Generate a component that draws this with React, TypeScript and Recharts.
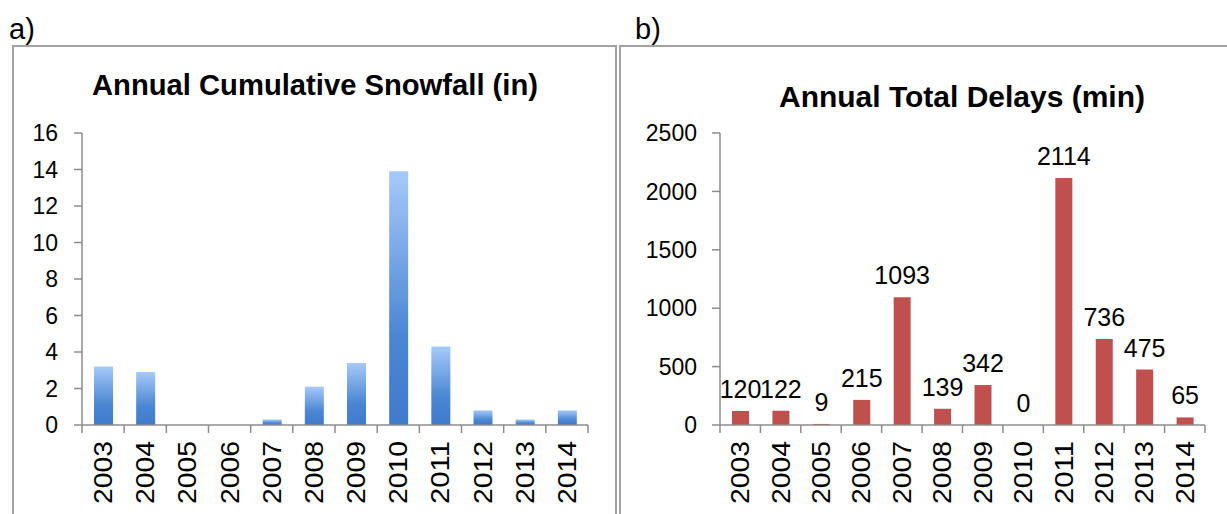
import { Bar, BarChart, LabelList, XAxis, YAxis } from "recharts";

const years = ["2003", "2004", "2005", "2006", "2007", "2008", "2009", "2010", "2011", "2012", "2013", "2014"];
const snowfall = [3.2, 2.9, 0, 0, 0.3, 2.1, 3.4, 13.9, 4.3, 0.8, 0.3, 0.8];
const delays = [120, 122, 9, 215, 1093, 139, 342, 0, 2114, 736, 475, 65];
const snowTicks = [0, 2, 4, 6, 8, 10, 12, 14, 16];
const delayTicks = [0, 500, 1000, 1500, 2000, 2500];

const snowData = years.map((year, i) => ({ year, value: snowfall[i] }));
const delayData = years.map((year, i) => ({ year, value: delays[i] }));

const FONT = "'Liberation Sans', Arial, sans-serif";
const AXIS = "#8c8c8c";
const AXIS_Y = 425;

function YearTick(props: any) {
  const { x, payload, index, band, count } = props;
  const half = band / 2;
  return (
    <g>
      <line x1={x - half} x2={x - half} y1={AXIS_Y} y2={AXIS_Y + 8} stroke={AXIS} strokeWidth={1.5} />
      {index === count - 1 && (
        <line x1={x + half} x2={x + half} y1={AXIS_Y} y2={AXIS_Y + 8} stroke={AXIS} strokeWidth={1.5} />
      )}
      <text
        transform={`translate(${x + 9},${AXIS_Y + 16}) rotate(-90)`}
        textAnchor="end"
        fontSize={25}
        fontFamily={FONT}
        fill="#000"
        textLength={63}
        lengthAdjust="spacingAndGlyphs"
      >
        {payload.value}
      </text>
    </g>
  );
}

// value above each bar (the 0 bar too)
function DelayLabel(props: any) {
  const { x, y, width, value } = props;
  return (
    <text x={x + width / 2} y={y - 13} textAnchor="middle" fontSize={25} fontFamily={FONT} fill="#000">
      {value}
    </text>
  );
}

export default function App() {
  return (
    <div style={{ position: "absolute", left: 0, top: 0, width: 1227, height: 514, overflow: "hidden", background: "#fff" }}>
      <div style={{ position: "absolute", left: 12, top: 45, width: 605, height: 520, boxSizing: "border-box", border: "2px solid #a3a3a3" }} />
      <div style={{ position: "absolute", left: 619, top: 45, width: 700, height: 520, boxSizing: "border-box", border: "2px solid #a3a3a3" }} />

      <div style={{ position: "absolute", left: 0, top: 0 }}>
        <BarChart width={615} height={514} data={snowData} margin={{ top: 133, right: 27, left: 0, bottom: 0 }}>
          <defs>
            <linearGradient id="snowGrad" x1="0" y1="0" x2="0" y2="1">
              <stop offset="0%" stopColor="#a6c9f9" />
              <stop offset="65%" stopColor="#4a86d2" />
              <stop offset="100%" stopColor="#3f7bcb" />
            </linearGradient>
          </defs>
          <XAxis
            dataKey="year"
            height={89}
            interval={0}
            stroke={AXIS}
            strokeWidth={1.5}
            tickLine={false}
            tick={(p: any) => <YearTick {...p} band={506 / 12} count={years.length} />}
          />
          <YAxis
            width={82}
            domain={[0, 16]}
            ticks={snowTicks}
            interval={0}
            stroke={AXIS}
            strokeWidth={1.5}
            tickSize={8}
            tickMargin={16}
            tick={{ fill: "#000", fontSize: 23, fontFamily: FONT }}
          />
          <Bar dataKey="value" fill="url(#snowGrad)" barSize={19} isAnimationActive={false} />
        </BarChart>
      </div>

      <div style={{ position: "absolute", left: 620, top: 0 }}>
        <BarChart width={607} height={514} data={delayData} margin={{ top: 133, right: 22, left: 0, bottom: 0 }}>
          <XAxis
            dataKey="year"
            height={89}
            interval={0}
            stroke={AXIS}
            strokeWidth={1.5}
            tickLine={false}
            tick={(p: any) => <YearTick {...p} band={485 / 12} count={years.length} />}
          />
          <YAxis
            width={100}
            domain={[0, 2500]}
            ticks={delayTicks}
            interval={0}
            stroke={AXIS}
            strokeWidth={1.5}
            tickSize={8}
            tickMargin={15}
            tick={{ fill: "#000", fontSize: 23, fontFamily: FONT }}
          />
          <Bar dataKey="value" fill="#c0504d" barSize={17} minPointSize={0.01} isAnimationActive={false}>
            <LabelList dataKey="value" content={DelayLabel} />
          </Bar>
        </BarChart>
      </div>

      <svg width={1227} height={514} style={{ position: "absolute", left: 0, top: 0, pointerEvents: "none" }}>
        <text x={9} y={39} fontSize={29} fontFamily={FONT} fill="#000">a)</text>
        <text x={635} y={39} fontSize={29} fontFamily={FONT} fill="#000">b)</text>
        <text x={315} y={95} textAnchor="middle" fontSize={29} fontWeight="bold" fontFamily={FONT} fill="#000" textLength={446} lengthAdjust="spacingAndGlyphs">
          Annual Cumulative Snowfall (in)
        </text>
        <text x={962} y={107} textAnchor="middle" fontSize={29} fontWeight="bold" fontFamily={FONT} fill="#000" textLength={366} lengthAdjust="spacingAndGlyphs">
          Annual Total Delays (min)
        </text>
      </svg>
    </div>
  );
}
